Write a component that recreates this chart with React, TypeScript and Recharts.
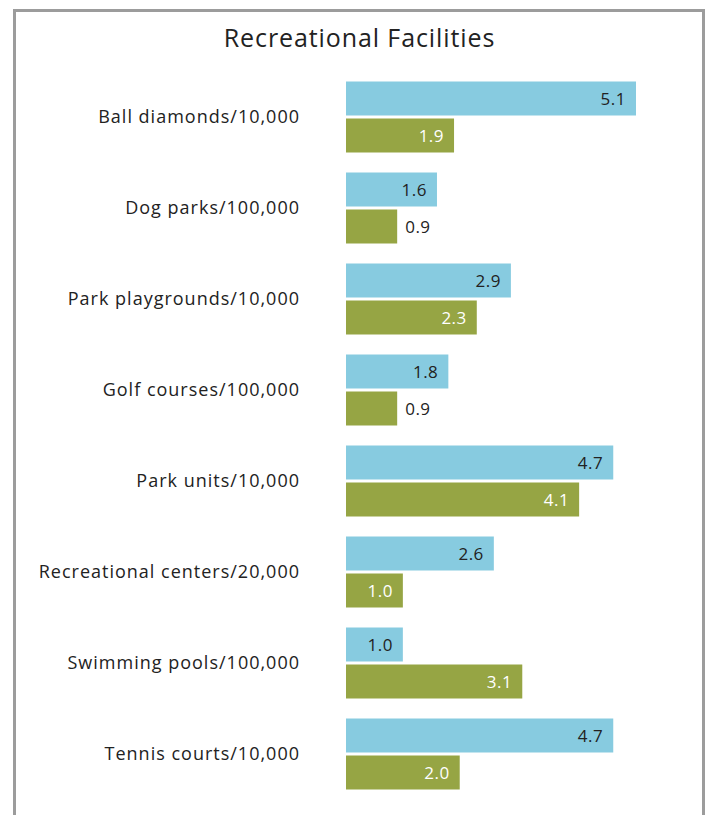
import { BarChart, Bar, XAxis, YAxis, LabelList } from 'recharts'

const categories = [
  'Ball diamonds/10,000',
  'Dog parks/100,000',
  'Park playgrounds/10,000',
  'Golf courses/100,000',
  'Park units/10,000',
  'Recreational centers/20,000',
  'Swimming pools/100,000',
  'Tennis courts/10,000',
]
const blueValues = [5.1, 1.6, 2.9, 1.8, 4.7, 2.6, 1.0, 4.7]
const greenValues = [1.9, 0.9, 2.3, 0.9, 4.1, 1.0, 3.1, 2.0]

const data = categories.map((name, i) => ({ name, blue: blueValues[i], green: greenValues[i] }))

const FONT = '"Open Sans", sans-serif'
const BLUE = '#87cbe0'
const GREEN = '#96a544'

// value sits inside the bar end, or just past it when the bar is too short
function makeLabel(insideColor: string) {
  return (props: any) => {
    const { x, y, width, height, value } = props
    const inside = width > 55
    return (
      <text
        x={inside ? x + width - 10 : x + width + 8}
        y={y + height / 2}
        textAnchor={inside ? 'end' : 'start'}
        dominantBaseline="central"
        fill={inside ? insideColor : '#222'}
        fontSize={17}
        letterSpacing={0.5}
        fontFamily={FONT}
      >
        {Number(value).toFixed(1)}
      </text>
    )
  }
}

export default function App() {
  return (
    <div style={{ position: 'absolute', left: 0, top: 0, width: 709, height: 815, overflow: 'hidden', background: '#fff' }}>
      <div
        style={{
          position: 'absolute',
          left: 13,
          top: 9,
          width: 692,
          height: 900,
          border: '3px solid #9c9c9c',
          boxSizing: 'border-box',
        }}
      />
      <div
        style={{
          position: 'absolute',
          left: 0,
          top: 20,
          width: 719,
          textAlign: 'center',
          fontFamily: FONT,
          fontSize: 25,
          letterSpacing: 0.9,
          color: '#222',
        }}
      >
        Recreational Facilities
      </div>
      <div style={{ position: 'absolute', left: 0, top: 0 }}>
        <BarChart
          width={709}
          height={815}
          data={data}
          layout="vertical"
          margin={{ top: 71.5, right: 73, left: 0, bottom: 15.5 }}
          barCategoryGap={10}
          barGap={3}
        >
          <XAxis type="number" domain={[0, 5.1]} hide />
          <YAxis
            type="category"
            dataKey="name"
            width={346}
            axisLine={false}
            tickLine={false}
            tickSize={0}
            tickMargin={46}
            tick={{ fill: '#222', fontSize: 18, fontFamily: FONT, letterSpacing: 1 }}
          />
          <Bar dataKey="blue" fill={BLUE} isAnimationActive={false}>
            <LabelList dataKey="blue" content={makeLabel('#222')} />
          </Bar>
          <Bar dataKey="green" fill={GREEN} isAnimationActive={false}>
            <LabelList dataKey="green" content={makeLabel('#fff')} />
          </Bar>
        </BarChart>
      </div>
    </div>
  )
}
